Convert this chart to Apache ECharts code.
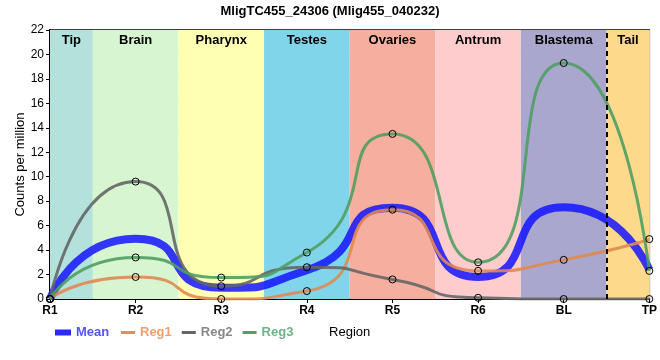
<!DOCTYPE html>
<html><head><meta charset="utf-8">
<script src="https://cdn.jsdelivr.net/npm/echarts@6/dist/echarts.min.js"></script>
<style>html,body{margin:0;padding:0;background:#fff}#c{width:660px;height:360px}</style>
</head><body><div id="c"></div>
<script>
const categories = ['R1','R2','R3','R4','R5','R6','BL','TP'];
const reg1 = [0, 1.8, 0, 0.65, 7.3, 2.3, 3.2, 4.9];
const reg2 = [0, 9.6, 1.05, 2.6, 1.6, 0.1, 0, 0];
const reg3 = [0, 3.4, 1.75, 3.8, 13.5, 3.0, 19.3, 2.3];
const mean = [0, 4.93, 0.93, 2.35, 7.47, 1.8, 7.5, 2.4];
const regions = ['Tip','Brain','Pharynx','Testes','Ovaries','Antrum','Blastema','Tail'];
const regionColors = ['#b3e2dd','#d7f6d0','#ffffb4','#80d5ea','#f6ae9f','#fecccc','#a9a7cd','#fdd98b'];
const yTicks = [0,2,4,6,8,10,12,14,16,18,20,22];

const FONT = '"Liberation Sans",Arial,sans-serif';
const SM = 0.7;
const toPts = arr => arr.map((v,i)=>[i,v]);
const bands = regions.map((r,i)=>[
  {xAxis: Math.max(0,i-0.5), itemStyle:{color:regionColors[i]}, name:r},
  {xAxis: Math.min(categories.length-1,i+0.5)}
]);
const chart = echarts.init(document.getElementById('c'), null, {renderer:'canvas'});
const regSeries = (name, data, color) => ({
  name, type:'line', data: toPts(data), smooth:SM, z:3, legendIcon:'rect',
  symbol:'circle', symbolSize:7,
  itemStyle:{color:'transparent', borderColor:'#000', borderWidth:1},
  lineStyle:{color, width:3, opacity:0.9},
  emphasis:{disabled:true}
});
const legItem = (name, color, textColor) => ({name, icon:'rect',
  itemStyle:{color, borderColor:'transparent', borderWidth:0, opacity:1}, textStyle:{color:textColor}});
const legBase = {icon:'rect', padding:0, itemStyle:{borderColor:'transparent', borderWidth:0}, lineStyle:{width:0, color:'transparent'},
  textStyle:{fontSize:13, fontWeight:'bold', fontFamily:FONT}};
chart.setOption({
  animation:false,
  textStyle:{fontFamily:FONT},
  title:{text:'MligTC455_24306 (Mlig455_040232)', left:'center', top:0,
    textStyle:{fontSize:13, fontWeight:'bold', color:'#000', fontFamily:FONT}},
  grid:{left:50, right:9, top:30, bottom:61, show:true, borderColor:'#000', borderWidth:1.5, backgroundColor:'transparent'},
  legend:[Object.assign({
    left:55, top:326, itemWidth:16, itemHeight:6, itemGap:10,
    data:[legItem('Mean','#2b2bff','#5555ff')]
  }, legBase),Object.assign({
    left:121, top:326, itemWidth:14, itemHeight:3, itemGap:10,
    data:[
      legItem('Reg1','#e38e55','#f0a070'),
      legItem('Reg2','#666666','#888888'),
      legItem('Reg3','#52a067','#6cb587')
    ]
  }, legBase)],
  xAxis:{type:'value', min:0, max:categories.length-1, interval:1,
    name:'Region', nameLocation:'middle', nameGap:27, nameMoveOverlap:false,
    nameTextStyle:{fontSize:13, color:'#000', fontFamily:FONT},
    axisLine:{show:true, onZero:false, lineStyle:{color:'#000', width:2}},
    axisTick:{show:true, length:4, lineStyle:{color:'#000'}},
    axisLabel:{formatter:v=>categories[v]||'', color:'#000', fontWeight:'bold', fontSize:12, margin:6, fontFamily:FONT},
    splitLine:{show:true, lineStyle:{color:'#c8c8c8', width:1}}
  },
  yAxis:{type:'value', min:0, max:22, interval:2,
    name:'Counts per million', nameLocation:'middle', nameGap:23, nameMoveOverlap:false,
    nameTextStyle:{fontSize:13, color:'#000', fontFamily:FONT},
    axisLine:{show:true, lineStyle:{color:'#000', width:2}},
    axisTick:{show:true, length:4, lineStyle:{color:'#000'}},
    axisLabel:{color:'#000', fontSize:12, margin:6, formatter:v=>yTicks.includes(v)?String(v):'', fontFamily:FONT},
    splitLine:{show:true, lineStyle:{color:'#c8c8c8', width:1}}
  },
  series:[
    {name:'bands', type:'line', data:[], z:-1, silent:true,
      markArea:{silent:true, label:{show:true, position:'insideTop', distance:4, color:'#000', fontWeight:'bold', fontSize:13, fontFamily:FONT},
        data:bands},
      markLine:{silent:true, symbol:'none', label:{show:false},
        lineStyle:{color:'#000', type:[5,4], width:2},
        data:[{xAxis:6.5}]}
    },
    {name:'Mean', type:'line', data:toPts(mean), smooth:SM, showSymbol:false, z:2, legendIcon:'rect',
      itemStyle:{color:'#2b2bff'}, lineStyle:{color:'#1414ff', width:8, opacity:0.85}, emphasis:{disabled:true}},
    regSeries('Reg1', reg1, '#e08a50'),
    regSeries('Reg2', reg2, '#666666'),
    regSeries('Reg3', reg3, '#4f9f63')
  ]
});
</script></body></html>
